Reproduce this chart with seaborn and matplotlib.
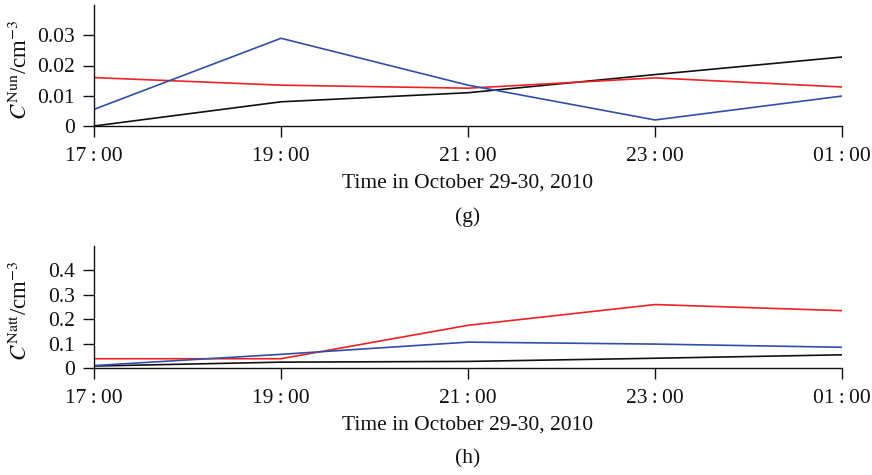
import matplotlib
matplotlib.use("Agg")
import matplotlib.pyplot as plt
import seaborn as sns
import pandas as pd

# Sampling times (hours after 17:00) and their tick labels
hours = [0, 2, 4, 6, 8]
time_labels = ["17\u2009:\u200900", "19\u2009:\u200900", "21\u2009:\u200900", "23\u2009:\u200900", "01\u2009:\u200900"]

# Panel (g): C^Nun concentrations (cm^-3)
nun_black = [0.0, 0.008, 0.011, 0.017, 0.0228]
nun_red = [0.016, 0.0135, 0.0125, 0.0159, 0.0129]
nun_blue = [0.0055, 0.029, 0.0135, 0.002, 0.0099]

# Panel (h): C^Natt concentrations (cm^-3)
natt_black = [0.008, 0.024, 0.027, 0.04, 0.054]
natt_red = [0.038, 0.038, 0.175, 0.26, 0.235]
natt_blue = [0.01, 0.056, 0.106, 0.098, 0.085]

series_colors = {"black": "#111111", "red": "#ee2222", "blue": "#3050a8"}

sns.set_style("ticks")
plt.rcParams["font.family"] = ["Liberation Serif", "DejaVu Serif"]
plt.rcParams["mathtext.fontset"] = "stix"
plt.rcParams["text.color"] = "#111111"

FS = 15.5

fig = plt.figure(figsize=(8.72, 4.75), dpi=100)
ax_g = fig.add_axes([94 / 872, 1 - 126 / 475, 748 / 872, 121 / 475])
ax_h = fig.add_axes([94 / 872, 1 - 368 / 475, 748 / 872, 122 / 475])


def long_frame(black, red, blue):
    rows = []
    for name, vals in (("black", black), ("red", red), ("blue", blue)):
        for h, v in zip(hours, vals):
            rows.append({"hour": h, "value": v, "series": name})
    return pd.DataFrame(rows)


def draw_panel(ax, df, yticks, yticklabels, ylim, ylabel, tag):
    sns.lineplot(data=df, x="hour", y="value", hue="series", palette=series_colors,
                 hue_order=["black", "red", "blue"], ax=ax, legend=False,
                 linewidth=1.2, sort=False)
    ax.set_xlim(0, 8)
    ax.set_ylim(*ylim)
    ax.set_xticks(hours)
    ax.set_xticklabels(time_labels, fontsize=FS, color="#111111")
    ax.set_yticks(yticks)
    ax.set_yticklabels(yticklabels, fontsize=FS, color="#111111")
    ax.tick_params(axis="both", direction="out", length=8, width=1.0, colors="#111111")
    ax.tick_params(axis="x", pad=7)
    ax.tick_params(axis="y", pad=6)
    for side in ("top", "right"):
        ax.spines[side].set_visible(False)
    for side in ("left", "bottom"):
        ax.spines[side].set_linewidth(1.0)
        ax.spines[side].set_color("#111111")
    ax.set_xlabel("")
    ax.set_ylabel(ylabel, fontsize=FS + 1, color="#111111")
    ax.yaxis.set_label_coords(-0.083, 0.47)
    ax.annotate("Time in October 29-30, 2010", xy=(0.5, 0), xycoords="axes fraction",
                xytext=(0, -57), textcoords="offset pixels",
                ha="center", va="center", fontsize=FS)
    ax.annotate(tag, xy=(0.5, 0), xycoords="axes fraction",
                xytext=(0, -91), textcoords="offset pixels",
                ha="center", va="center", fontsize=FS)


draw_panel(ax_g, long_frame(nun_black, nun_red, nun_blue),
           [0, 0.01, 0.02, 0.03], ["0", "0.01", "0.02", "0.03"], (0, 0.04),
           r"$C^{\mathrm{Nun}}$/cm$^{-3}$", "(g)")
draw_panel(ax_h, long_frame(natt_black, natt_red, natt_blue),
           [0, 0.1, 0.2, 0.3, 0.4], ["0", "0.1", "0.2", "0.3", "0.4"], (0, 0.5),
           r"$C^{\mathrm{Natt}}$/cm$^{-3}$", "(h)")

fig.savefig("out.png", dpi=100)
